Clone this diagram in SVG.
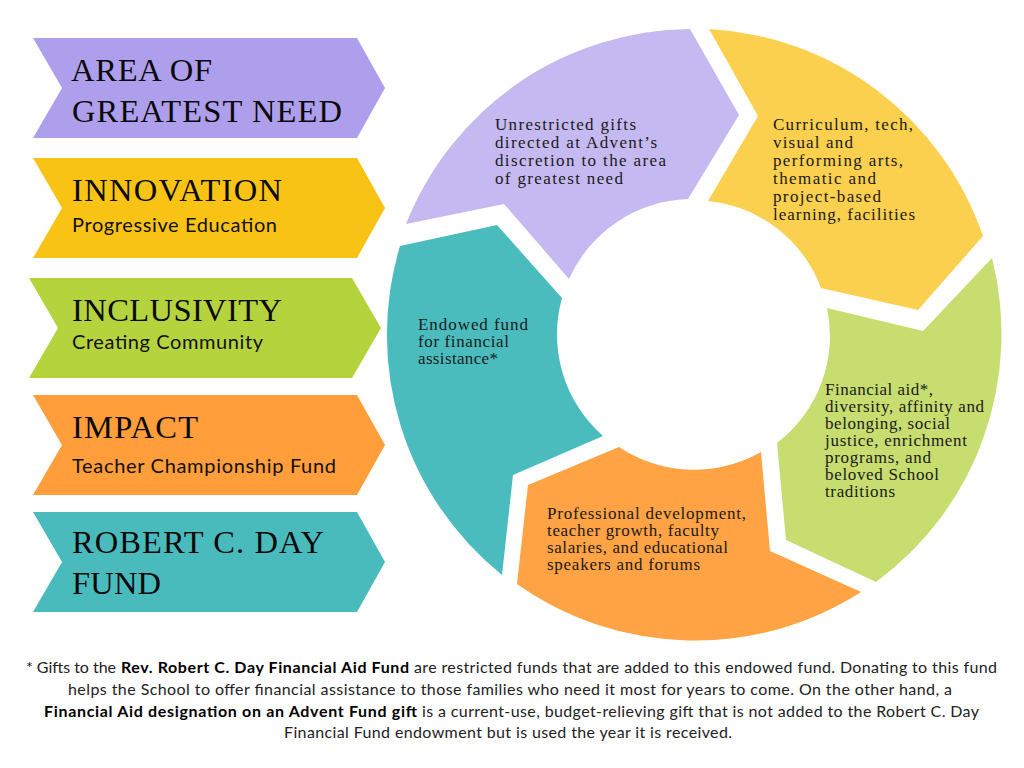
<svg xmlns="http://www.w3.org/2000/svg" width="1024" height="768" viewBox="0 0 1024 768">
<style>
.h{font-family:"Liberation Serif","Times New Roman",serif;font-size:32.5px;fill:#0a0a0a}
.s{font-family:"Lato","Open Sans",sans-serif;font-size:20px;fill:#111}
.b{font-family:"Liberation Serif","Times New Roman",serif;font-size:17px;fill:#1a1a1a}
.f{font-family:"Lato","Open Sans",sans-serif;font-size:16px;fill:#222}
.fb{font-weight:700;fill:#000}
</style>
<rect width="1024" height="768" fill="#fff"/>
<g id="tag-area"><path fill="#ae9fec" d="M33 38H357L385 88L357 138H33L62 88Z"/>
<text class="h" x="71" y="81" textLength="141" lengthAdjust="spacing">AREA OF</text>
<text class="h" x="72" y="122" textLength="270" lengthAdjust="spacing">GREATEST NEED</text></g>
<g id="tag-innovation"><path fill="#f9c315" d="M33 158H357L385 208L357 258H33L62 208Z"/>
<text class="h" x="72" y="201" textLength="210" lengthAdjust="spacing">INNOVATION</text>
<text class="s" x="72" y="232" textLength="205" lengthAdjust="spacing">Progressive Education</text></g>
<g id="tag-inclusivity"><path fill="#b5d33d" d="M29 278H352L381 328L352 378H29L58 328Z"/>
<text class="h" x="72" y="321" textLength="210" lengthAdjust="spacing">INCLUSIVITY</text>
<text class="s" x="72" y="349" textLength="191" lengthAdjust="spacing">Creating Community</text></g>
<g id="tag-impact"><path fill="#ff9e3b" d="M33 395H357L385 445L357 495H33L62 445Z"/>
<text class="h" x="72" y="438" textLength="126" lengthAdjust="spacing">IMPACT</text>
<text class="s" x="72" y="473" textLength="264" lengthAdjust="spacing">Teacher Championship Fund</text></g>
<g id="tag-day"><path fill="#4abbbd" d="M33 512H357L385 562L357 612H33L62 562Z"/>
<text class="h" x="72" y="553" textLength="252" lengthAdjust="spacing">ROBERT C. DAY</text>
<text class="h" x="72" y="594" textLength="89" lengthAdjust="spacing">FUND</text></g>

<g id="seg-purple"><path fill="#c4b9f0" d="M406 224A308 308 0 0 1 690 29L739 115L688 199A135 135 0 0 0 569 279L504 204Z"/>
<text class="b" x="495" y="130" textLength="141" lengthAdjust="spacing">Unrestricted gifts</text>
<text class="b" x="495" y="148" textLength="162" lengthAdjust="spacing">directed at Advent’s</text>
<text class="b" x="495" y="166" textLength="171" lengthAdjust="spacing">discretion to the area</text>
<text class="b" x="495" y="184" textLength="128" lengthAdjust="spacing">of greatest need</text></g>
<g id="seg-yellow"><path fill="#fbd04f" d="M709 29A308 308 0 0 1 983 236L918 310L821 288A135 135 0 0 0 708 201L758 116Z"/>
<text class="b" x="773" y="130" textLength="140" lengthAdjust="spacing">Curriculum, tech,</text>
<text class="b" x="773" y="148" textLength="80" lengthAdjust="spacing">visual and</text>
<text class="b" x="773" y="166" textLength="130" lengthAdjust="spacing">performing arts,</text>
<text class="b" x="773" y="184" textLength="103" lengthAdjust="spacing">thematic and</text>
<text class="b" x="773" y="202" textLength="108" lengthAdjust="spacing">project-based</text>
<text class="b" x="773" y="220" textLength="142" lengthAdjust="spacing">learning, facilities</text></g>
<g id="seg-green"><path fill="#c7dd70" d="M992 258A308 308 0 0 1 876 582L786 540L777 443A135 135 0 0 0 827 308L923 331Z"/>
<text class="b" x="825" y="395" textLength="108" lengthAdjust="spacing">Financial aid*,</text>
<text class="b" x="825" y="412" textLength="159" lengthAdjust="spacing">diversity, affinity and</text>
<text class="b" x="825" y="429" textLength="125" lengthAdjust="spacing">belonging, social</text>
<text class="b" x="825" y="446" textLength="142" lengthAdjust="spacing">justice, enrichment</text>
<text class="b" x="825" y="463" textLength="106" lengthAdjust="spacing">programs, and</text>
<text class="b" x="825" y="480" textLength="114" lengthAdjust="spacing">beloved School</text>
<text class="b" x="825" y="497" textLength="70" lengthAdjust="spacing">traditions</text></g>
<g id="seg-orange"><path fill="#ffa344" d="M861 592A308 308 0 0 1 517 584L528 485L619 447A135 135 0 0 0 761 452L770 551Z"/>
<text class="b" x="547" y="519" textLength="199" lengthAdjust="spacing">Professional development,</text>
<text class="b" x="547" y="536" textLength="172" lengthAdjust="spacing">teacher growth, faculty</text>
<text class="b" x="547" y="553" textLength="181" lengthAdjust="spacing">salaries, and educational</text>
<text class="b" x="547" y="570" textLength="153" lengthAdjust="spacing">speakers and forums</text></g>
<g id="seg-teal"><path fill="#4abcbd" d="M502 575A308 308 0 0 1 400 246L497 225L562 298A135 135 0 0 0 603 436L513 475Z"/>
<text class="b" x="418" y="330" textLength="110" lengthAdjust="spacing">Endowed fund</text>
<text class="b" x="418" y="347" textLength="91" lengthAdjust="spacing">for financial</text>
<text class="b" x="418" y="364" textLength="80" lengthAdjust="spacing">assistance*</text></g>

<g id="footnote">
<text class="f" x="26" y="673" textLength="90" lengthAdjust="spacing">* Gifts to the</text>
<text class="f fb" x="121" y="673" textLength="288" lengthAdjust="spacing">Rev. Robert C. Day Financial Aid Fund</text>
<text class="f" x="414" y="673" textLength="583" lengthAdjust="spacing">are restricted funds that are added to this endowed fund. Donating to this fund</text>
<text class="f" x="68" y="695" textLength="884" lengthAdjust="spacing">helps the School to offer financial assistance to those families who need it most for years to come. On the other hand, a</text>
<text class="f fb" x="44" y="717" textLength="373" lengthAdjust="spacing">Financial Aid designation on an Advent Fund gift</text>
<text class="f" x="422" y="717" textLength="557" lengthAdjust="spacing">is a current-use, budget-relieving gift that is not added to the Robert C. Day</text>
<text class="f" x="284" y="738" textLength="448" lengthAdjust="spacing">Financial Fund endowment but is used the year it is received.</text>
</g>
</svg>
